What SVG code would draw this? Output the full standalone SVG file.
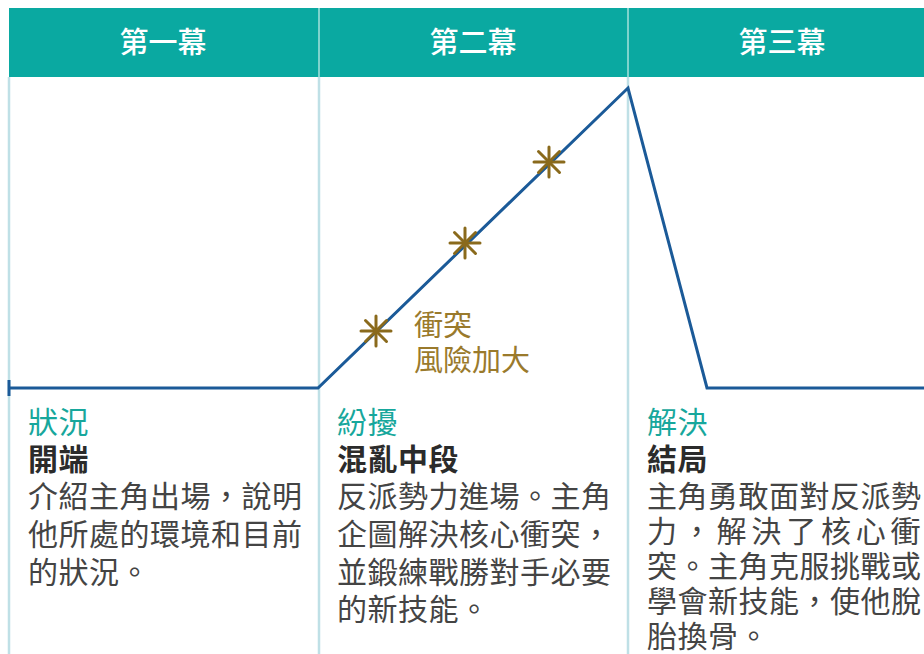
<svg xmlns="http://www.w3.org/2000/svg" width="924" height="654" viewBox="0 0 924 654">
<defs>
<style>
.hdr{font-family:"Noto Sans CJK TC","Noto Sans CJK SC",sans-serif;font-size:29px;fill:#ffffff;text-anchor:middle;font-weight:500}
.t{font-family:"Noto Sans CJK TC","Noto Sans CJK SC",sans-serif;font-size:30px;letter-spacing:0.5px}
.teal{fill:#17a79c}
.bold{fill:#2b2b2b;font-weight:700}
.body{fill:#444444}
.gold{fill:#9a7a2c;font-family:"Noto Sans CJK TC","Noto Sans CJK SC",sans-serif;font-size:29px}
.div{stroke:#bfe0e6;stroke-width:2.5}
.star{stroke:#8a6a1c;stroke-width:3;stroke-linecap:round}
</style>
<g id="asterisk">
<line class="star" x1="-15" y1="0" x2="15" y2="0"/>
<line class="star" x1="0" y1="-15" x2="0" y2="15"/>
<line class="star" x1="-10.5" y1="-10.5" x2="10.5" y2="10.5"/>
<line class="star" x1="-10.5" y1="10.5" x2="10.5" y2="-10.5"/>
</g>
</defs>
<rect width="924" height="654" fill="#ffffff"/>
<g id="header">
<rect x="9" y="8" width="915" height="69" fill="#0aa9a1"/>
<line x1="319" y1="8" x2="319" y2="77" stroke="#7fd3cd" stroke-width="2"/>
<line x1="628" y1="8" x2="628" y2="77" stroke="#7fd3cd" stroke-width="2"/>
<text class="hdr" x="163" y="53">第一幕</text>
<text class="hdr" x="473" y="53">第二幕</text>
<text class="hdr" x="782" y="53">第三幕</text>
</g>
<g id="dividers">
<line class="div" x1="9" y1="77" x2="9" y2="654"/>
<line class="div" x1="319" y1="77" x2="319" y2="654"/>
<line class="div" x1="628" y1="77" x2="628" y2="654"/>
</g>
<g id="connectors">
<polyline points="9,388 318,388 628,88 707,388 924,388" fill="none" stroke="#1b5a98" stroke-width="3" stroke-linejoin="miter"/>
<line x1="9" y1="380" x2="9" y2="396" stroke="#1b5a98" stroke-width="3"/>
</g>
<g id="stars">
<use href="#asterisk" x="376" y="331"/>
<use href="#asterisk" x="465" y="243"/>
<use href="#asterisk" x="549" y="162"/>
<text class="gold" x="414" y="336">衝突</text>
<text class="gold" x="414" y="371">風險加大</text>
</g>
<g id="act1">
<text class="t teal" x="28" y="433">狀況</text>
<text class="t bold" x="28" y="470">開端</text>
<text class="t body" x="28" y="507">介紹主角出場，說明</text>
<text class="t body" x="28" y="545">他所處的環境和目前</text>
<text class="t body" x="28" y="583">的狀況。</text>
</g>
<g id="act2">
<text class="t teal" x="337" y="433">紛擾</text>
<text class="t bold" x="337" y="470" letter-spacing="2">混亂中段</text>
<text class="t body" x="337" y="507">反派勢力進場。主角</text>
<text class="t body" x="337" y="545">企圖解決核心衝突，</text>
<text class="t body" x="337" y="583">並鍛練戰勝對手必要</text>
<text class="t body" x="337" y="620">的新技能。</text>
</g>
<g id="act3">
<text class="t teal" x="647" y="433">解決</text>
<text class="t bold" x="647" y="470">結局</text>
<text class="t body" x="647" y="507">主角勇敢面對反派勢</text>
<text class="t body" x="647" y="542" textLength="274" lengthAdjust="spacing">力，解決了核心衝</text>
<text class="t body" x="647" y="577">突。主角克服挑戰或</text>
<text class="t body" x="647" y="612">學會新技能，使他脫</text>
<text class="t body" x="647" y="647">胎換骨。</text>
</g>
</svg>
